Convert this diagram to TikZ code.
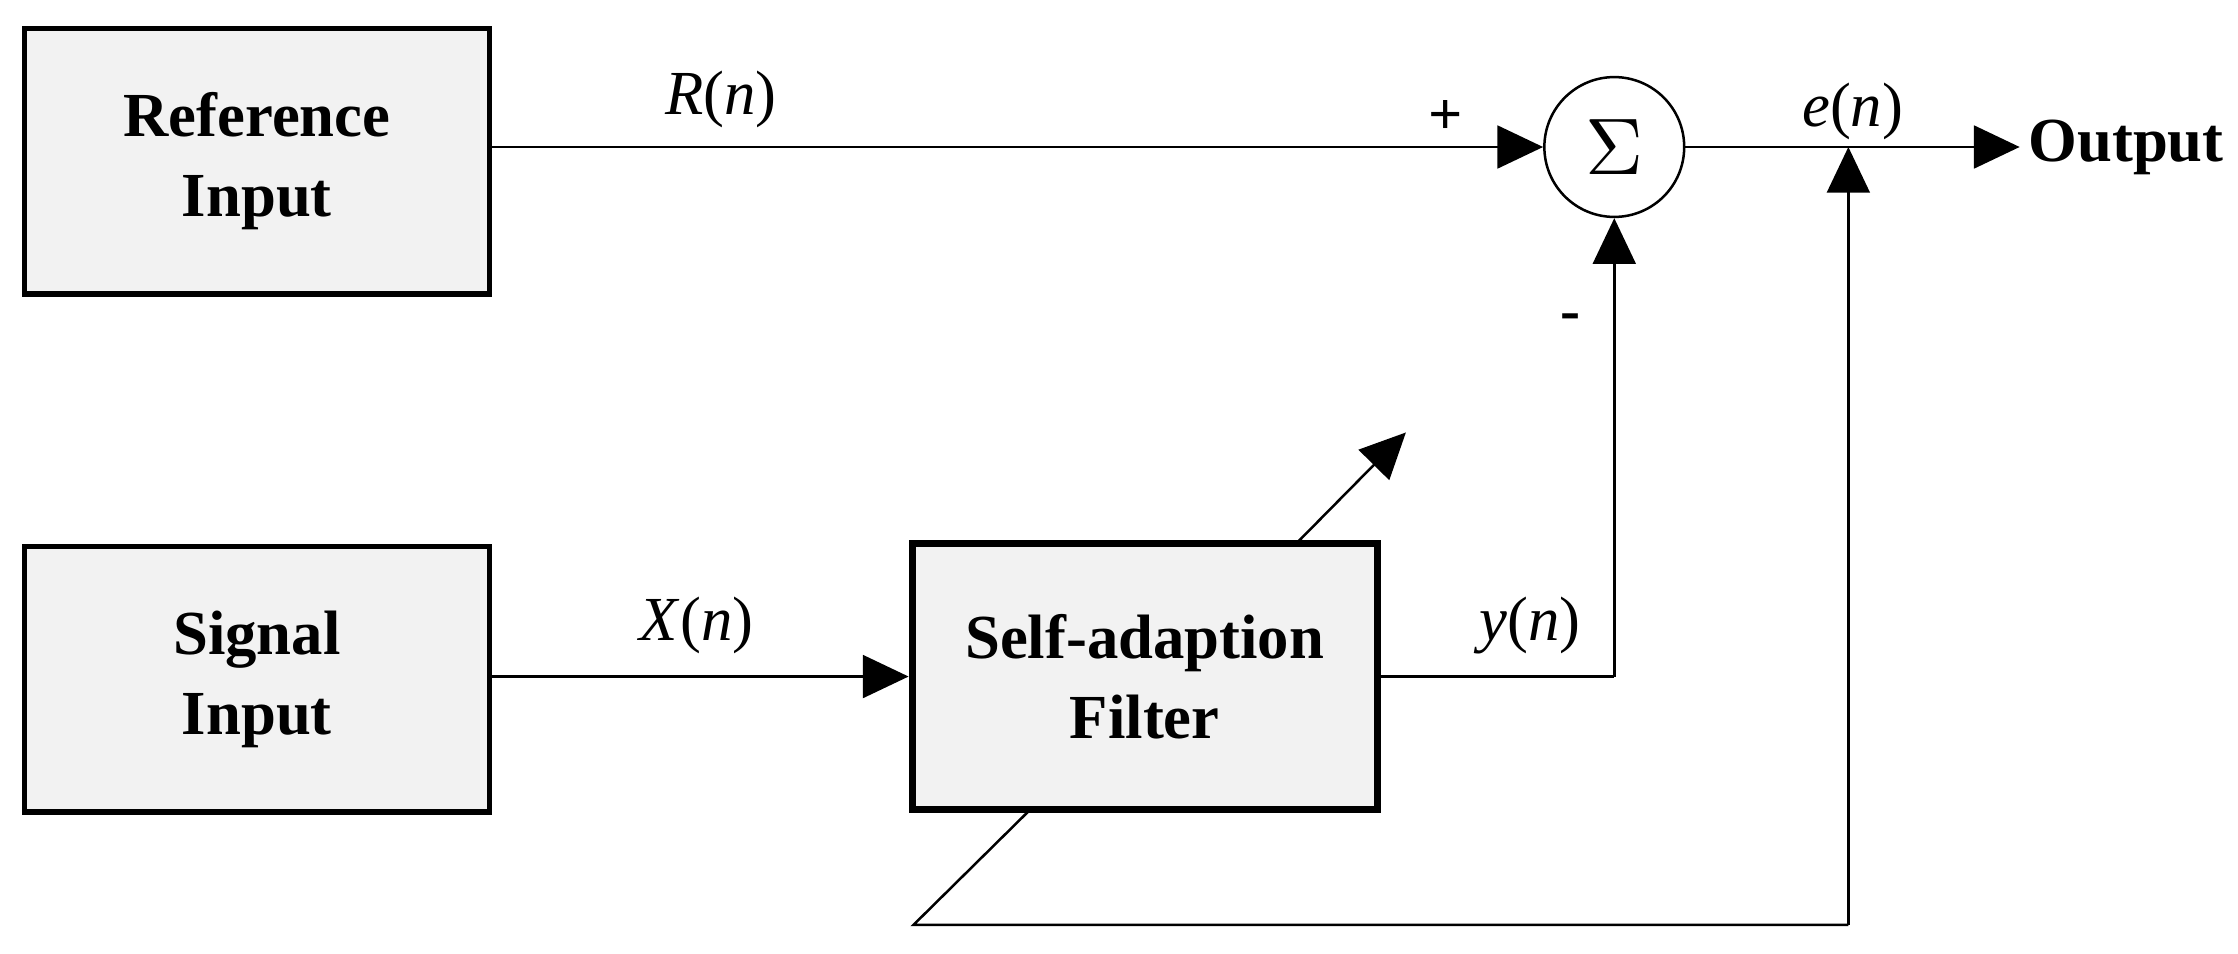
\documentclass[tikz,border=0pt]{standalone}
\usepackage{fontspec}
\setmainfont{Liberation Serif}
\usetikzlibrary{arrows.meta}
\begin{document}
\begin{tikzpicture}[x=0.02cm,y=-0.02cm,
 box/.style={draw,line width=2.2pt,fill=gray!10,minimum width=6.52cm,minimum height=3.72cm,align=center,font=\fontsize{25}{32}\selectfont\bfseries},
 lab/.style={font=\fontsize{25}{28}\selectfont},
 ar/.style={-{Triangle[length=0.64cm,width=0.6cm]},line width=1pt},
 ln/.style={line width=1pt}]
\useasboundingbox (0,0) rectangle (1568,668);
\node[box] (ref) at (180,113) {Reference\\Input};
\node[box] (sig) at (180,476) {Signal\\Input};
\node[box,line width=2.8pt] (fil) at (802,474) {Self-adaption\\Filter};
\node[draw,circle,line width=1pt,minimum size=1.96cm,inner sep=0pt] (sum) at (1131,103) {\scalebox{3.2}{$\Sigma$}};
\node[font=\fontsize{25}{30}\selectfont\bfseries,anchor=west] (out) at (1415,103) {Output};
\coordinate (tap) at (1295,103);
\coordinate (fb) at (1295,648);
\coordinate (fbl) at (640,648);
\coordinate (fbt) at (720,569);
\coordinate (corner) at (1131,474);
\coordinate (a1) at (908,381);
\coordinate (a2) at (985,303);
\draw[ar] (ref.east|-sum) -- (sum.west);
\draw[ar] (sum.east) -- (out.west);
\draw[ar] (sig.east|-fil) -- (fil.west);
\draw[ln] (fil.east|-corner) -- (corner);
\draw[ar] (corner) -- (sum.south);
\draw[ar] (fb) -- (tap);
\draw[ln] (fb) -- (fbl) -- (fbt);
\draw[ar] (a1) -- (a2);
\node[lab] (Rn) at (505,70) {\textit{R}(\textit{n})};
\node[lab] (Xn) at (488,438) {\textit{X}(\textit{n})};
\node[lab] (yn) at (1072,438) {\textit{y}(\textit{n})};
\node[lab] (en) at (1298,78) {\textit{e}(\textit{n})};
\node[lab,font=\fontsize{24}{28}\selectfont\bfseries] (plus) at (1013,82) {+};
\node[lab,font=\fontsize{24}{28}\selectfont\bfseries] (minus) at (1100,226) {-};
\end{tikzpicture}
\end{document}
